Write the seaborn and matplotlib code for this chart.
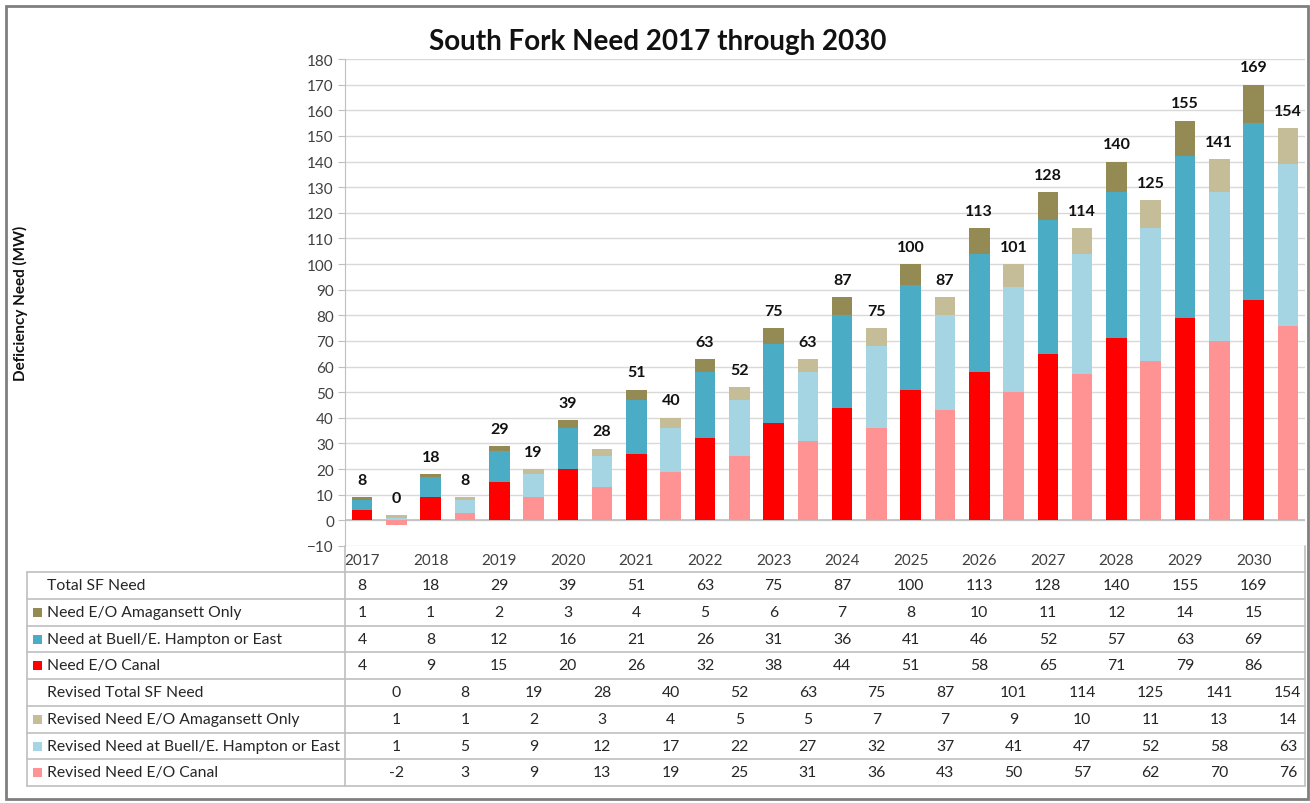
import numpy as np
import matplotlib
matplotlib.use('Agg')
import matplotlib.pyplot as plt
from matplotlib.lines import Line2D
from matplotlib.patches import Rectangle
from matplotlib.transforms import blended_transform_factory
import seaborn as sns

sns.set_style('white')
plt.rcParams['font.family'] = ['Lato', 'DejaVu Sans']

years = ['2017', '2018', '2019', '2020', '2021', '2022', '2023',
         '2024', '2025', '2026', '2027', '2028', '2029', '2030']

total_sf = [8, 18, 29, 39, 51, 63, 75, 87, 100, 113, 128, 140, 155, 169]
amagansett = [1, 1, 2, 3, 4, 5, 6, 7, 8, 10, 11, 12, 14, 15]
buell = [4, 8, 12, 16, 21, 26, 31, 36, 41, 46, 52, 57, 63, 69]
canal = [4, 9, 15, 20, 26, 32, 38, 44, 51, 58, 65, 71, 79, 86]

rev_total_sf = [0, 8, 19, 28, 40, 52, 63, 75, 87, 101, 114, 125, 141, 154]
rev_amagansett = [1, 1, 2, 3, 4, 5, 5, 7, 7, 9, 10, 11, 13, 14]
rev_buell = [1, 5, 9, 12, 17, 22, 27, 32, 37, 41, 47, 52, 58, 63]
rev_canal = [-2, 3, 9, 13, 19, 25, 31, 36, 43, 50, 57, 62, 70, 76]

C_AMAG, C_BUELL, C_CANAL = '#948A54', '#4BACC6', '#FF0000'
C_RAMAG, C_RBUELL, C_RCANAL = '#C4BD97', '#A5D5E2', '#FF9393'

W, H = 1310, 804
def fx(px):
    return px / W
def fy(py):
    return 1 - py / H

fig = plt.figure(figsize=(W / 100, H / 100), dpi=100)
ax = fig.add_axes([fx(345), fy(547), fx(1305) - fx(345), fy(60) - fy(547)])

# original bars on even slots, revised bars on odd slots
x_orig = np.arange(len(years)) * 2
x_rev = x_orig + 1


def stack(xpos, parts, colors):
    pos_bottom = np.zeros(len(xpos))
    neg_bottom = np.zeros(len(xpos))
    for vals, col in zip(parts, colors):
        vals = np.array(vals, dtype=float)
        bottom = np.where(vals >= 0, pos_bottom, neg_bottom)
        sns.barplot(x=xpos, y=vals, bottom=bottom, native_scale=True, width=0.3,
                    color=col, saturation=1, errorbar=None, ax=ax, zorder=3,
                    linewidth=0, edgecolor=col)
        pos_bottom += np.clip(vals, 0, None)
        neg_bottom += np.clip(vals, None, 0)
    return pos_bottom


top_orig = stack(x_orig, [canal, buell, amagansett], [C_CANAL, C_BUELL, C_AMAG])
top_rev = stack(x_rev, [rev_canal, rev_buell, rev_amagansett], [C_RCANAL, C_RBUELL, C_RAMAG])

for xs, tops, labels in [(x_orig, top_orig, total_sf), (x_rev, top_rev, rev_total_sf)]:
    for x, t, lab in zip(xs, tops, labels):
        ax.annotate(str(lab), (x, t), xytext=(0, 12.5), textcoords='offset points',
                    ha='center', va='center', fontsize=11.5, fontweight='bold', color='#111111')

ax.set_ylim(-10, 180)
ax.set_xlim(-0.5, len(years) * 2 - 0.5)
ax.set_yticks(np.arange(-10, 181, 10))
ax.yaxis.grid(True, color='#D9D9D9', linewidth=1, zorder=0)
ax.set_axisbelow(True)
ax.axhline(0, color='#BFBFBF', linewidth=1.2, zorder=2)
for s in ['top', 'right', 'bottom']:
    ax.spines[s].set_visible(False)
ax.spines['left'].set_color('#BFBFBF')
ax.tick_params(axis='y', length=5, color='#BFBFBF', labelsize=11, labelcolor='#404040', pad=3, left=True)
ax.set_xticks(x_orig)
ax.set_xticklabels(years)
ax.tick_params(axis='x', length=0, labelsize=11, labelcolor='#404040', pad=5)
ax.set_xlabel('')
ax.set_ylabel('')

fig.text(fx(658), fy(42), 'South Fork Need 2017 through 2030', ha='center', va='center',
         fontsize=20, fontweight='bold', color='#111111')
fig.text(fx(20), fy(303), 'Deficiency Need (MW)', rotation=90, ha='center', va='center',
         fontsize=11, fontweight='bold', color='#111111')

# data table under the chart
line_col = '#BFBFBF'
row_lines = [573, 600, 627, 653, 680, 707, 734, 760, 787]
for py in row_lines:
    fig.add_artist(Line2D([fx(27), fx(1305)], [fy(py), fy(py)], color=line_col, lw=1.2))
fig.add_artist(Line2D([fx(27), fx(27)], [fy(573), fy(787)], color=line_col, lw=1.2))
fig.add_artist(Line2D([fx(1305), fx(1305)], [fy(547), fy(787)], color=line_col, lw=1.2))
fig.add_artist(Line2D([fx(345), fx(345)], [fy(547), fy(787)], color=line_col, lw=1.2))

rows = [
    ('Total SF Need', None, x_orig, total_sf),
    ('Need E/O Amagansett Only', C_AMAG, x_orig, amagansett),
    ('Need at Buell/E. Hampton or East', C_BUELL, x_orig, buell),
    ('Need E/O Canal', C_CANAL, x_orig, canal),
    ('Revised Total SF Need', None, x_rev, rev_total_sf),
    ('Revised Need E/O Amagansett Only', C_RAMAG, x_rev, rev_amagansett),
    ('Revised Need at Buell/E. Hampton or East', C_RBUELL, x_rev, rev_buell),
    ('Revised Need E/O Canal', C_RCANAL, x_rev, rev_canal),
]
trans = blended_transform_factory(ax.transData, fig.transFigure)
for i, (name, col, xs, vals) in enumerate(rows):
    yc = fy((row_lines[i] + row_lines[i + 1]) / 2)
    if col is not None:
        fig.add_artist(Rectangle((fx(33), yc - 4.5 / H), 9 / W, 9 / H, facecolor=col,
                                 edgecolor='none', transform=fig.transFigure))
    fig.text(fx(47), yc, name, ha='left', va='center', fontsize=11.3, color='#262626')
    for x, v in zip(xs, vals):
        ax.text(x, yc, str(v), transform=trans, ha='center', va='center',
                fontsize=11.3, color='#262626', clip_on=False)

fig.add_artist(Rectangle((fx(6), fy(800)), fx(1308) - fx(6), fy(7) - fy(800), fill=False,
                         edgecolor='#7F7F7F', lw=2, transform=fig.transFigure))

fig.savefig('out.png', dpi=100)
